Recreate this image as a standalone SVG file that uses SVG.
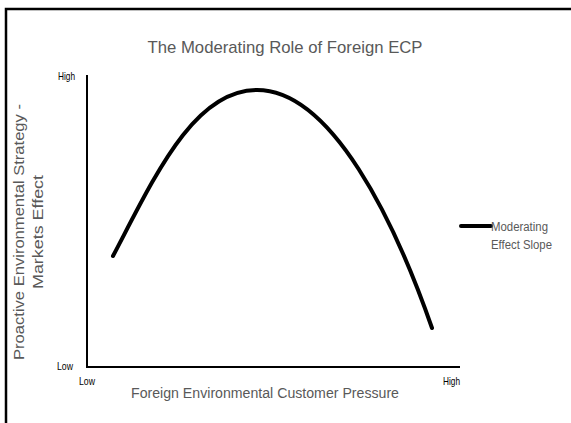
<svg xmlns="http://www.w3.org/2000/svg" width="571" height="423" viewBox="0 0 571 423">
<style>
.g{font-family:"Liberation Sans",Arial,sans-serif;fill:#595959}
.k{font-family:"Liberation Sans",Arial,sans-serif;fill:#000;font-size:11px}
</style>
<rect x="0" y="0" width="571" height="423" fill="#fff"/>
<path d="M6,430 V9 H580" fill="none" stroke="#000" stroke-width="2.5"/>
<g id="title"><text class="g" x="285" y="53" font-size="17" text-anchor="middle" textLength="275" lengthAdjust="spacingAndGlyphs">The Moderating Role of Foreign ECP</text></g>
<g id="axes">
<path d="M87,75 V367 H460" fill="none" stroke="#000" stroke-width="2"/>
</g>
<g id="ticks">
<text class="k" x="58" y="80" textLength="17" lengthAdjust="spacingAndGlyphs">High</text>
<text class="k" x="57" y="370" textLength="16" lengthAdjust="spacingAndGlyphs">Low</text>
<text class="k" x="79" y="385" textLength="16" lengthAdjust="spacingAndGlyphs">Low</text>
<text class="k" x="443" y="385" textLength="17" lengthAdjust="spacingAndGlyphs">High</text>
</g>
<g id="xlabel"><text class="g" x="265" y="398" font-size="14" text-anchor="middle" textLength="268" lengthAdjust="spacingAndGlyphs">Foreign Environmental Customer Pressure</text></g>
<g id="ylabel" transform="translate(24,232) rotate(-90)">
<text class="g" x="0" y="0" font-size="15" text-anchor="middle" textLength="256" lengthAdjust="spacingAndGlyphs">Proactive Environmental Strategy -</text>
<text class="g" x="0" y="19" font-size="15" text-anchor="middle" textLength="114" lengthAdjust="spacingAndGlyphs">Markets Effect</text>
</g>
<g id="connectors">
<path d="M113,256 C155,176 193.7,90 257,90 C332,90 395,222 432,328" fill="none" stroke="#000" stroke-width="4" stroke-linecap="round" stroke-linejoin="round"/>
</g>
<g id="legend">
<line x1="461" y1="226" x2="491" y2="226" stroke="#000" stroke-width="4" stroke-linecap="round"/>
<text class="g" x="491" y="231" font-size="12" textLength="57" lengthAdjust="spacingAndGlyphs">Moderating</text>
<text class="g" x="491" y="249" font-size="12" textLength="61" lengthAdjust="spacingAndGlyphs">Effect Slope</text>
</g>
</svg>
